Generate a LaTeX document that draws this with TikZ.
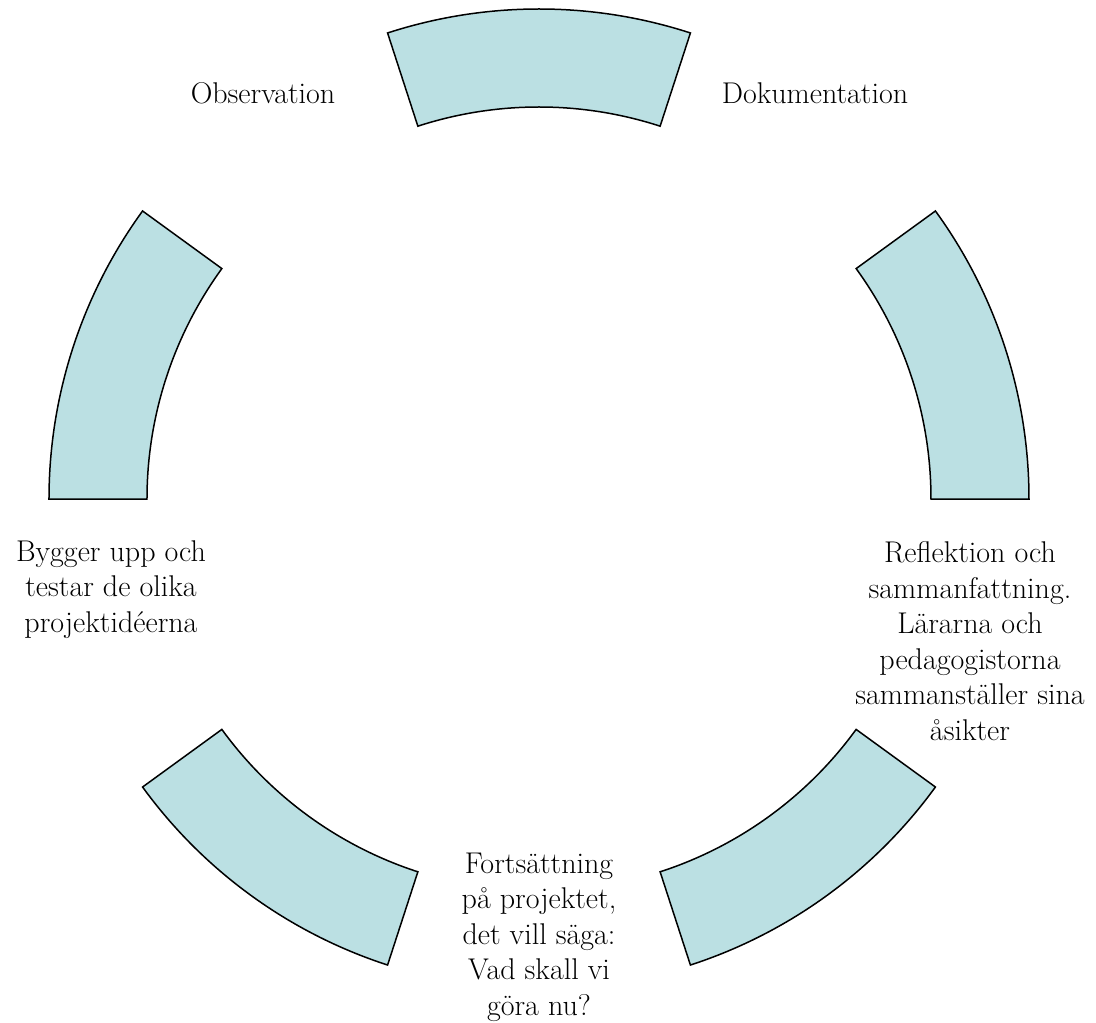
\documentclass[tikz,border=0pt]{standalone}
\usepackage{fontspec}
\definecolor{segfill}{RGB}{187,224,227}
\begin{document}
\begin{tikzpicture}[x=1pt, y=1pt, seg/.style={draw=black, fill=segfill, line width=1.5pt, line join=miter},
        lbl/.style={align=center, anchor=base, inner sep=0pt, font=\fontsize{30}{35.5}\selectfont}]
        \useasboundingbox (-539,-524) rectangle (557,499);
        \draw[seg] (0:490) arc[start angle=0, end angle=36, radius=490] -- (36:392) arc[start angle=36, end angle=0, radius=392] -- cycle;
        \draw[seg] (72:490) arc[start angle=72, end angle=108, radius=490] -- (108:392) arc[start angle=108, end angle=72, radius=392] -- cycle;
        \draw[seg] (144:490) arc[start angle=144, end angle=180, radius=490] -- (180:392) arc[start angle=180, end angle=144, radius=392] -- cycle;
        \draw[seg] (216:490) arc[start angle=216, end angle=252, radius=490] -- (252:392) arc[start angle=252, end angle=216, radius=392] -- cycle;
        \draw[seg] (288:490) arc[start angle=288, end angle=324, radius=490] -- (324:392) arc[start angle=324, end angle=288, radius=392] -- cycle;
        % last line sits on the base anchor
        \node[lbl] (obs) at (-276,395) {Observation};
        \node[lbl] (dok) at (276,395) {Dokumentation};
        \node[lbl] (refl) at (431,-241) {Reflektion och\\sammanfattning.\\Lärarna och\\pedagogistorna\\sammanställer sina\\åsikter};
        \node[lbl] (forts) at (0,-516) {Fortsättning\\på projektet,\\det vill säga:\\Vad skall vi\\göra nu?};
        \node[lbl] (bygg) at (-428,-133) {Bygger upp och\\testar de olika\\projektidéerna};
    \end{tikzpicture}
\end{document}
